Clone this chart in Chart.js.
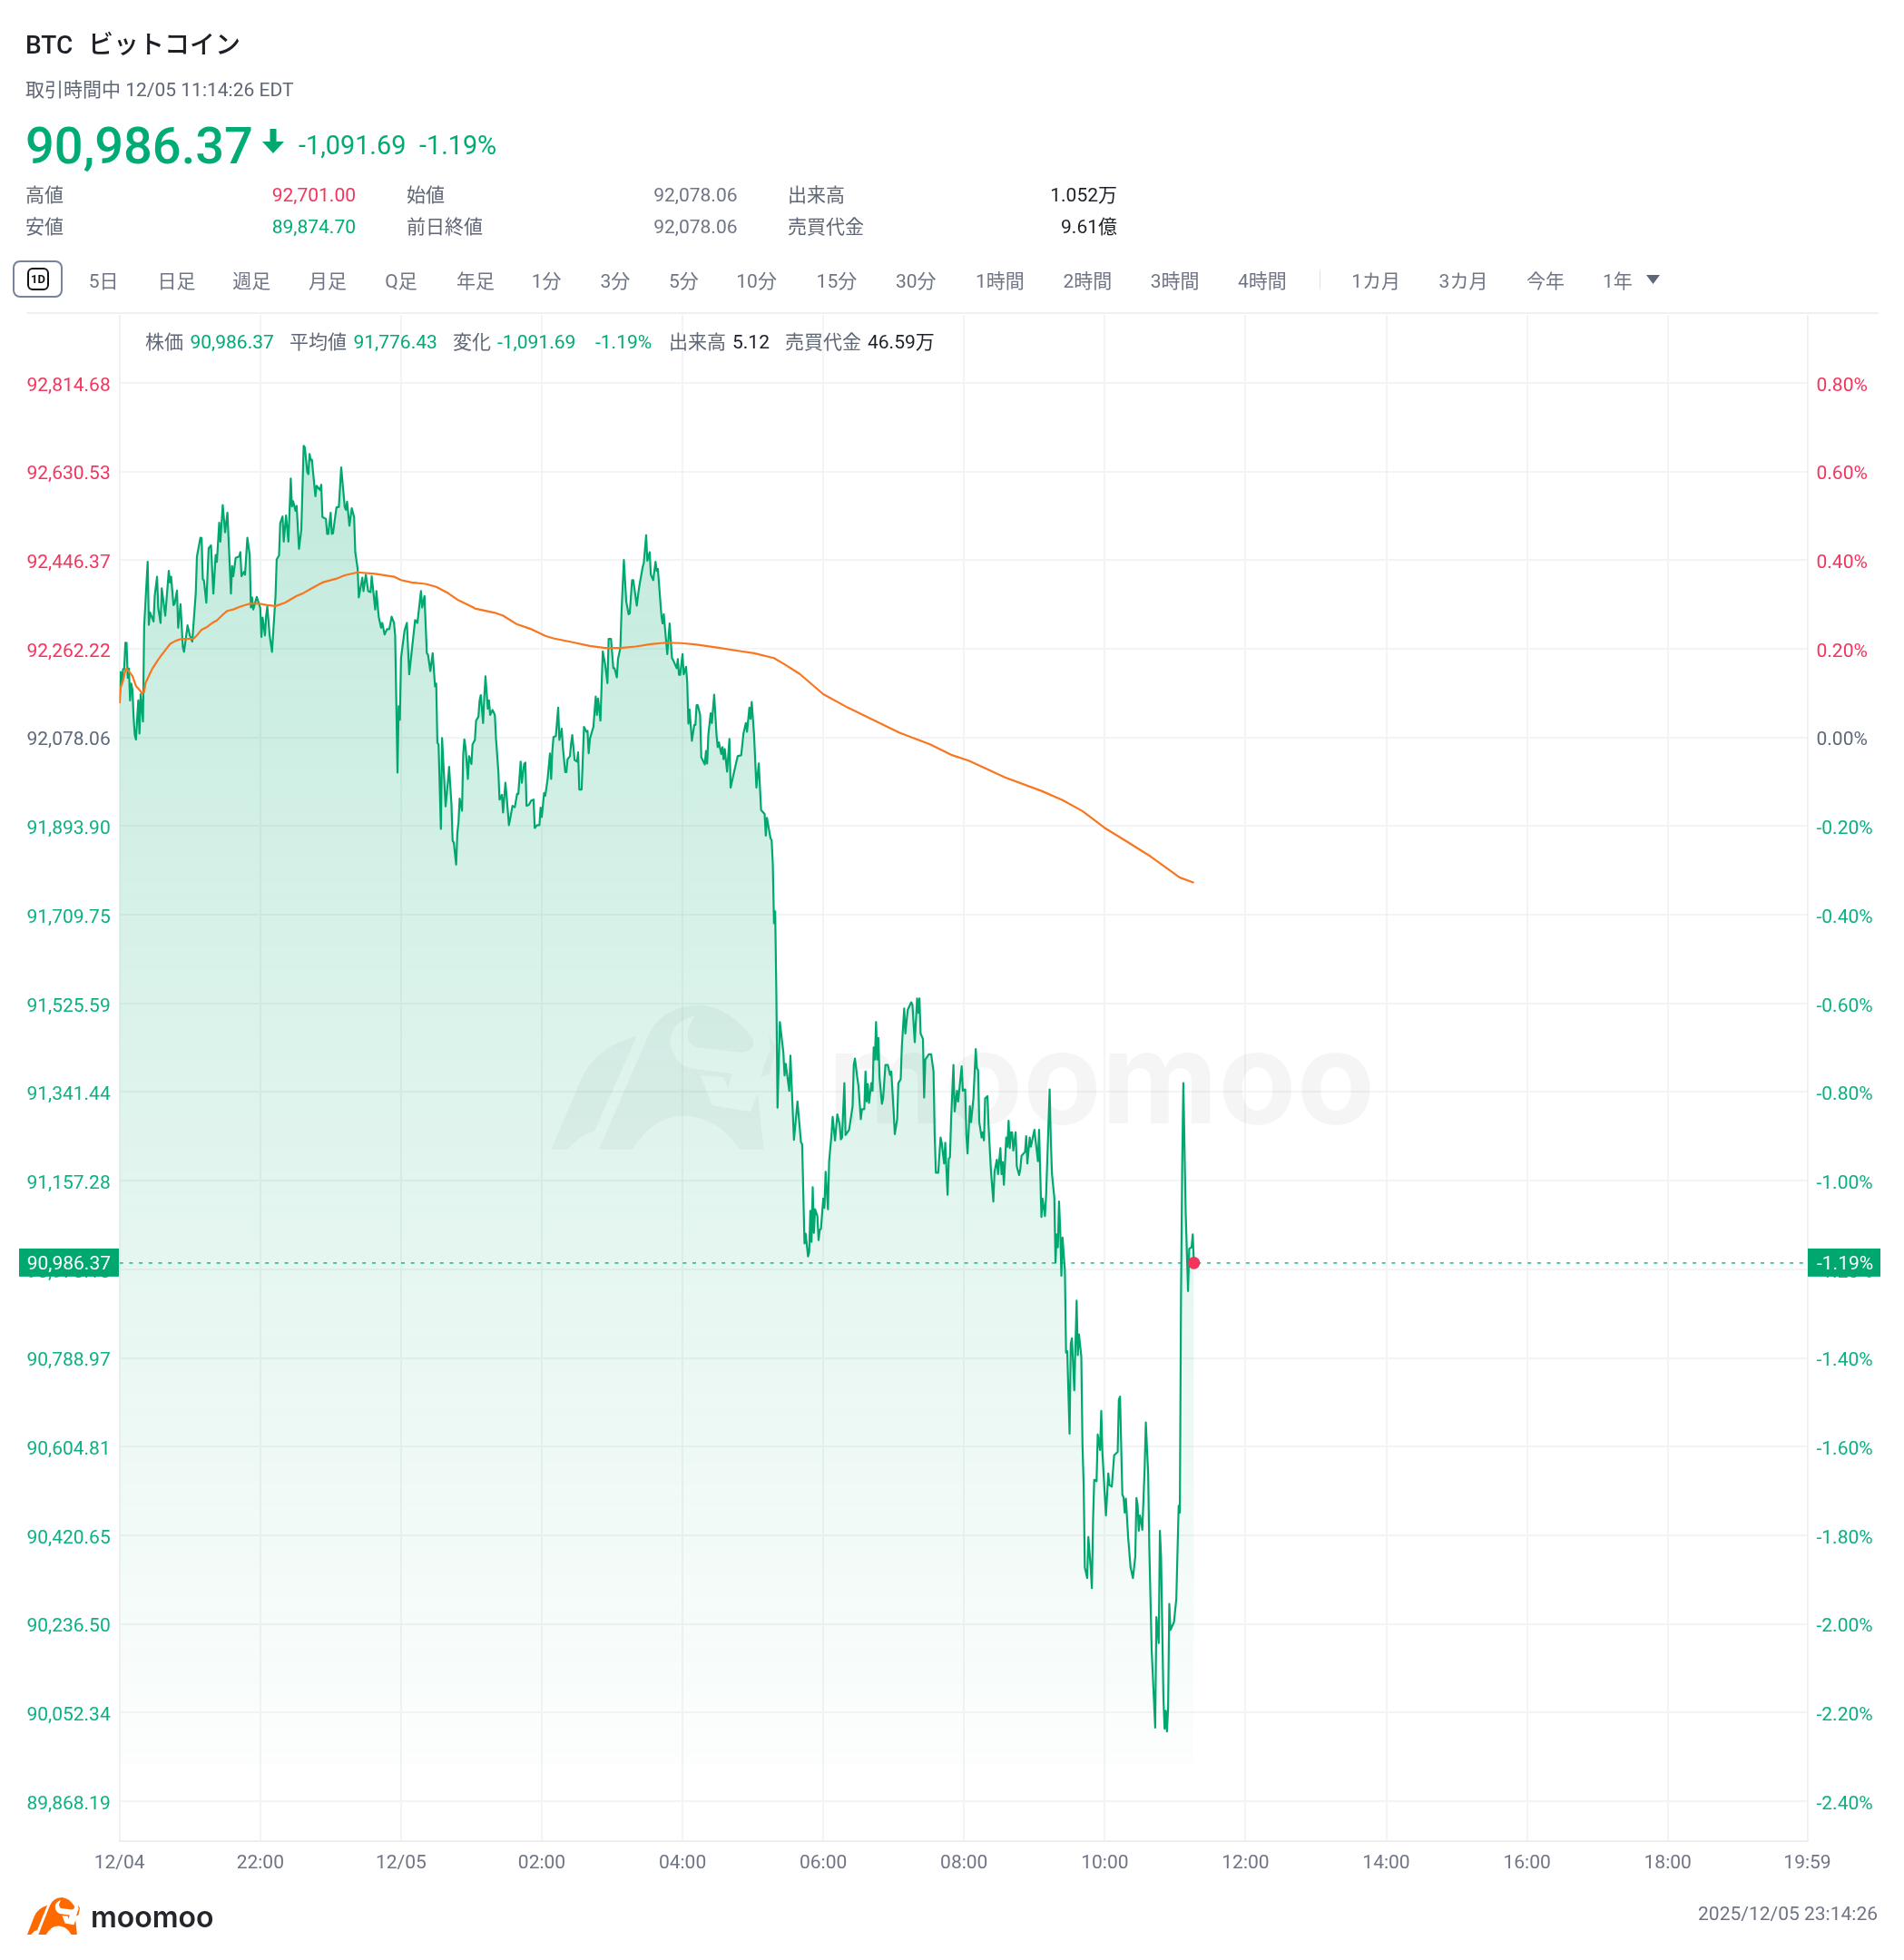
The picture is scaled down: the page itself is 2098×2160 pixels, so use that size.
<!DOCTYPE html>
<html lang="ja"><head><meta charset="utf-8"><title>BTC</title>
<script src="https://cdn.jsdelivr.net/npm/chart.js@4"></script>
<style>
html,body{margin:0;padding:0;background:#fff;width:2098px;height:2160px;overflow:hidden}
body{font-family:Roboto,"Noto Sans CJK JP",sans-serif;position:relative}
canvas{position:absolute;left:0;top:0}
.t{position:absolute;white-space:pre;line-height:1;transform:translateY(-50%);font-size:21px;color:#5f6675}
.r{transform:translate(-100%,-50%)}
.g{color:#00ab76}.e{color:#f5345e}.k{color:#1c1f26}.m{color:#6f7585}
</style></head><body>
<canvas id="c" width="2098" height="2160"></canvas>
<div id="head"></div>
<script>
const prevClose = 92078.06;
const lastPrice = 90986.37;
const priceSeries = [[0,92149],[1,92214],[2,92190],[3,92220],[4,92221],[5,92275],[6,92275],[7,92202],[8,92221],[9,92155],[10,92190],[11,92177],[12,92121],[13,92083],[14,92074],[16,92155],[17,92086],[18,92168],[20,92111],[21,92309],[24,92443],[25,92312],[26,92338],[29,92319],[30,92372],[32,92412],[33,92347],[35,92316],[36,92388],[39,92331],[42,92424],[43,92400],[44,92412],[46,92353],[47,92356],[49,92383],[50,92306],[52,92355],[54,92265],[55,92256],[58,92311],[60,92290],[62,92277],[65,92378],[66,92454],[69,92493],[70,92492],[71,92407],[72,92404],[74,92358],[76,92471],[78,92477],[80,92377],[82,92457],[83,92443],[85,92524],[86,92485],[88,92561],[90,92504],[92,92545],[95,92377],[96,92434],[97,92413],[99,92451],[102,92454],[103,92463],[104,92413],[106,92422],[107,92416],[109,92493],[111,92457],[112,92348],[113,92369],[114,92344],[117,92370],[120,92347],[121,92287],[122,92327],[124,92290],[125,92331],[126,92350],[128,92290],[130,92256],[133,92372],[134,92448],[136,92456],[137,92523],[139,92537],[140,92485],[142,92539],[144,92485],[146,92616],[147,92558],[148,92569],[150,92549],[151,92559],[153,92470],[155,92510],[157,92684],[158,92681],[160,92630],[161,92625],[162,92667],[163,92654],[164,92655],[167,92579],[168,92601],[171,92592],[172,92603],[173,92536],[176,92532],[177,92501],[178,92501],[180,92545],[181,92501],[182,92502],[184,92539],[185,92556],[187,92557],[189,92639],[192,92557],[193,92551],[194,92568],[196,92518],[198,92554],[200,92536],[201,92463],[203,92429],[204,92369],[207,92410],[208,92382],[210,92416],[212,92382],[214,92380],[215,92413],[218,92344],[219,92382],[221,92328],[223,92306],[224,92316],[226,92292],[228,92303],[230,92303],[232,92329],[234,92316],[235,92290],[237,92005],[238,92143],[239,92115],[240,92243],[243,92300],[245,92316],[247,92209],[252,92322],[254,92316],[257,92382],[258,92348],[260,92372],[262,92253],[263,92250],[265,92216],[267,92253],[269,92184],[270,92190],[271,92067],[272,92064],[274,91888],[275,92077],[278,91935],[280,91986],[281,92017],[283,91939],[284,91863],[285,91860],[287,91814],[288,91879],[289,91901],[290,91951],[292,91926],[293,92042],[294,92074],[295,92058],[297,91992],[298,92039],[300,92023],[301,92064],[303,92073],[304,92113],[306,92121],[307,92155],[308,92166],[310,92108],[311,92163],[312,92205],[314,92138],[315,92155],[316,92125],[318,92135],[320,92125],[321,92075],[323,92007],[324,91949],[326,91959],[327,91922],[329,91984],[330,91957],[332,91896],[333,91908],[335,91936],[337,91933],[339,91961],[340,91961],[342,92028],[343,91984],[345,92023],[346,92026],[347,91936],[349,91938],[351,91947],[353,91949],[354,91890],[356,91896],[358,91896],[359,91932],[360,91913],[362,91963],[363,91957],[365,91992],[367,92045],[368,91992],[369,92050],[370,92079],[372,92081],[374,92140],[375,92073],[377,92096],[378,92058],[380,92006],[381,92006],[382,92033],[384,92039],[385,92065],[386,92083],[388,92031],[390,92028],[391,92047],[392,91970],[394,91970],[396,92100],[398,92090],[399,92092],[400,92045],[401,92075],[404,92100],[406,92163],[407,92125],[408,92159],[410,92113],[412,92257],[414,92230],[416,92191],[417,92283],[419,92283],[421,92222],[422,92222],[424,92203],[425,92241],[427,92264],[428,92340],[430,92447],[432,92361],[434,92334],[435,92336],[437,92405],[438,92405],[441,92352],[443,92390],[446,92432],[447,92441],[449,92498],[450,92445],[452,92463],[453,92416],[455,92405],[457,92443],[458,92424],[459,92428],[462,92331],[463,92315],[464,92334],[467,92251],[469,92315],[471,92243],[472,92239],[475,92222],[476,92241],[477,92208],[478,92208],[480,92251],[481,92209],[483,92225],[484,92193],[485,92107],[486,92136],[488,92071],[490,92104],[491,92104],[492,92145],[493,92145],[495,92125],[496,92037],[499,92022],[500,92050],[501,92024],[502,92083],[504,92128],[505,92108],[507,92167],[509,92083],[510,92058],[511,92068],[513,92044],[514,92058],[515,92033],[516,92054],[518,92007],[520,92075],[521,91974],[524,92007],[527,92039],[530,92041],[532,92087],[534,92108],[535,92090],[537,92140],[538,92117],[539,92152],[541,92083],[543,91974],[545,92024],[547,91927],[550,91919],[551,91874],[552,91911],[555,91869],[556,91864],[557,91814],[558,91692],[559,91717],[560,91545],[561,91309],[563,91487],[566,91423],[567,91376],[568,91400],[571,91344],[572,91417],[575,91242],[578,91322],[581,91237],[582,91233],[584,91027],[585,91047],[587,91000],[588,91009],[589,91095],[590,91030],[591,91144],[592,91049],[593,91098],[595,91084],[596,91034],[597,91055],[598,91057],[600,91120],[601,91101],[602,91176],[604,91098],[605,91198],[607,91252],[608,91290],[610,91241],[612,91295],[614,91274],[615,91243],[616,91247],[618,91360],[619,91252],[622,91263],[625,91312],[626,91398],[627,91411],[629,91371],[630,91355],[632,91285],[633,91306],[635,91306],[636,91384],[637,91322],[638,91358],[639,91319],[641,91360],[642,91344],[643,91434],[644,91409],[645,91487],[646,91409],[647,91454],[648,91371],[650,91317],[651,91328],[653,91398],[655,91398],[657,91377],[658,91384],[660,91301],[661,91254],[663,91285],[664,91360],[666,91368],[667,91436],[669,91515],[670,91463],[672,91512],[675,91528],[676,91523],[678,91445],[680,91536],[681,91506],[682,91536],[683,91463],[685,91452],[686,91330],[687,91409],[690,91420],[692,91420],[694,91384],[695,91252],[696,91174],[698,91174],[700,91247],[701,91236],[703,91193],[704,91236],[706,91128],[707,91203],[708,91206],[709,91285],[711,91398],[712,91301],[714,91344],[715,91322],[718,91395],[719,91344],[721,91347],[722,91252],[723,91214],[725,91312],[726,91279],[728,91328],[730,91431],[731,91391],[732,91387],[733,91279],[735,91247],[736,91258],[737,91241],[738,91328],[740,91333],[741,91268],[743,91176],[745,91114],[746,91176],[748,91201],[749,91171],[751,91225],[752,91171],[753,91196],[754,91149],[756,91247],[757,91228],[758,91282],[759,91225],[760,91258],[761,91258],[762,91220],[764,91258],[765,91187],[767,91169],[768,91182],[769,91209],[772,91217],[773,91250],[774,91193],[776,91247],[777,91228],[780,91263],[783,91198],[784,91263],[786,91082],[787,91120],[789,91084],[790,91128],[793,91347],[794,91241],[795,91171],[797,91122],[798,90987],[799,91046],[800,91019],[801,91114],[802,91057],[803,90960],[804,91039],[806,90971],[807,90800],[808,90803],[810,90632],[811,90819],[812,90830],[814,90722],[816,90908],[817,90795],[818,90838],[820,90792],[821,90608],[822,90527],[823,90354],[825,90332],[826,90417],[828,90354],[829,90311],[830,90451],[831,90536],[833,90533],[834,90630],[836,90598],[837,90679],[838,90592],[841,90462],[843,90549],[844,90525],[846,90522],[848,90587],[851,90594],[852,90702],[853,90709],[855,90505],[856,90500],[857,90468],[858,90497],[860,90414],[862,90354],[864,90332],[866,90376],[867,90498],[868,90484],[869,90430],[870,90462],[871,90451],[872,90432],[874,90560],[875,90655],[877,90549],[878,90392],[880,90181],[883,90021],[884,90251],[886,90197],[887,90430],[888,90376],[890,90084],[891,90019],[892,90056],[893,90013],[894,90062],[895,90278],[896,90224],[899,90240],[901,90289],[903,90482],[904,90468],[905,90917],[906,91187],[907,91360],[909,91090],[911,90928],[912,91016],[914,91019],[915,91046],[916,90986.37]];
const averageSeries = [[0,92149],[1,92182],[3,92196],[5,92218],[6,92221],[8,92215],[11,92206],[14,92185],[17,92177],[19,92170],[21,92172],[22,92190],[25,92206],[28,92221],[33,92240],[37,92253],[43,92272],[48,92279],[53,92283],[63,92283],[66,92290],[70,92302],[75,92308],[79,92316],[83,92321],[88,92333],[92,92341],[97,92344],[103,92350],[111,92356],[119,92356],[126,92353],[133,92351],[141,92358],[146,92365],[151,92372],[156,92377],[164,92388],[173,92400],[185,92408],[192,92415],[203,92421],[218,92418],[234,92412],[240,92405],[249,92400],[261,92397],[270,92391],[280,92378],[289,92363],[301,92349],[303,92346],[320,92337],[327,92331],[339,92313],[350,92304],[363,92289],[370,92284],[388,92275],[401,92268],[414,92264],[427,92264],[440,92267],[453,92272],[466,92275],[479,92274],[492,92271],[512,92264],[530,92257],[541,92253],[558,92243],[567,92230],[580,92210],[600,92168],[621,92140],[642,92115],[665,92088],[691,92064],[709,92042],[724,92030],[755,91995],[786,91967],[804,91948],[821,91925],[840,91890],[858,91863],[879,91831],[904,91787],[916,91776.43]];
const priceTicks = [92814.68,92630.53,92446.37,92262.22,92078.06,91893.90,91709.75,91525.59,91341.44,91157.28,90973.13,90788.97,90604.81,90420.65,90236.50,90052.34,89868.19];
const percentTicks = [0.8,0.6,0.4,0.2,0,-0.2,-0.4,-0.6,-0.8,-1.0,-1.2,-1.4,-1.6,-1.8,-2.0,-2.2,-2.4];
const timeTicks = [0,120,240,360,480,600,720,840,960,1080,1200,1320,1439];
const timeLabels = ['12/04','22:00','12/05','02:00','04:00','06:00','08:00','10:00','12:00','14:00','16:00','18:00','19:59'];
const toolbarLabels = ['5日','日足','週足','月足','Q足','年足','1分','3分','5分','10分','15分','30分','1時間','2時間','3時間','4時間','1カ月','3カ月','今年','1年'];
const toolbarX = [97.8,173.5,256.3,340,424.2,503,585.7,661.4,737,811.3,899.6,986.9,1075,1171.4,1267.7,1364,1489.3,1585.6,1681.9,1766];

const GREEN='#00a870',TXT_G='#0cb083',RED='#f5345e',GREY='#5f6878';
const AXIS_MAX=92955.9, AXIS_MIN=89785.4, FILL_BASE=89946;
const BULL='M52 530 L150 300 Q200 190 335 155 L195 470 Q150 480 105 530 Z M210 530 L370 160 Q410 60 540 52 Q650 60 720 170 Q725 205 680 210 L530 192 Q495 175 505 130 L527 88 Q450 110 445 170 Q450 240 510 262 L650 280 L637 330 L622 292 L545 285 L585 385 L710 405 L735 345 L755 530 L675 530 Q600 420 490 420 Q390 420 320 530 Z M770 150 L795 190 L775 280 L745 290 Q760 230 778 200 Z';

const head=document.getElementById('head');
function put(txt,x,y,cls,extra){const d=document.createElement('div');d.className='t '+(cls||'');d.textContent=txt;d.style.left=x+'px';d.style.top=y+'px';if(extra)d.style.cssText+=';'+extra;head.appendChild(d);return d;}
put('BTC',28,49.5,'k','font-size:28px;font-weight:500');
put('ビットコイン',97,49.5,'k','font-size:28px;font-weight:500');
put('取引時間中 12/05 11:14:26 EDT',28,98.5,'');
put('90,986.37',28,161,'g','font-size:56px;font-weight:500');
put('-1,091.69',329,159.5,'g','font-size:28.8px;font-weight:400');
put('-1.19%',462,159.5,'g','font-size:28.8px;font-weight:400');
head.insertAdjacentHTML('beforeend','<svg style="position:absolute;left:288px;top:142px" width="26" height="27" viewBox="0 0 26 27"><path d="M9.5 0H16.5V14H25L13 27L1 14H9.5Z" fill="#00a870"/></svg>');
put('高値',28,214.5);put('92,701.00',392,214.5,'r e');put('始値',448,214.5);put('92,078.06',812.5,214.5,'r m');put('出来高',868,214.5);put('1.052万',1231,214.5,'r k');
put('安値',28,249.5);put('89,874.70',392,249.5,'r g');put('前日終値',448,249.5);put('92,078.06',812.5,249.5,'r m');put('売買代金',868,249.5);put('9.61億',1231,249.5,'r k');
head.insertAdjacentHTML('beforeend','<div style="position:absolute;left:14px;top:287px;width:51px;height:37px;border:2px solid #77839b;border-radius:8px"></div><div style="position:absolute;left:30px;top:295px;width:20px;height:21px;border:2px solid #111;border-radius:6px;font:700 13px/21px Roboto;text-align:center;color:#111">1D</div>');
toolbarLabels.forEach((l,i)=>put(l,toolbarX[i],309.5,'m'));
head.insertAdjacentHTML('beforeend','<div style="position:absolute;left:1454px;top:298px;width:1px;height:20px;background:#dfe2e6"></div><svg style="position:absolute;left:1814px;top:303px" width="15" height="10"><path d="M0 0H15L7.5 10Z" fill="#5f6675"/></svg><div style="position:absolute;left:29px;top:344px;width:2041px;height:2px;background:#eef0f2"></div>');
put('株価',160,376.5);put('90,986.37',209.5,376.5,'g');put('平均値',319,376.5);put('91,776.43',389.5,376.5,'g');put('変化',499,376.5);put('-1,091.69',548,376.5,'g');put('-1.19%',656,376.5,'g');put('出来高',737,376.5);put('5.12',807,376.5,'k');put('売買代金',865,376.5);put('46.59万',956,376.5,'k');
head.insertAdjacentHTML('beforeend','<svg style="position:absolute;left:30px;top:2091px" width="58" height="41" viewBox="52 52 743 478" preserveAspectRatio="none"><path d="'+BULL+'" fill="#ff6a00"/></svg>');
put('moomoo',100,2113,'','font:600 32px/1 Inter;color:#25262b');
put('2025/12/05 23:14:26',2069,2109,'r m');

const watermark={id:'watermark',beforeDatasetsDraw(c){const x=c.ctx;x.save();x.fillStyle='rgba(10,50,40,0.045)';x.translate(590,1090);x.scale(1/3,1/3);x.fill(new Path2D(BULL));x.restore();x.save();x.fillStyle='rgba(0,0,0,0.04)';x.font='700 141px Inter';x.textBaseline='alphabetic';x.fillText('moomoo',912,1238);x.restore();}};
const badges={id:'badges',afterDraw(c){const x=c.ctx,y=c.scales.y.getPixelForValue(lastPrice);x.save();x.fillStyle=GREEN;x.fillRect(21,y-16,110,31);x.fillRect(1992,y-16,80,31);x.fillStyle='#fff';x.font='21px Roboto';x.textBaseline='middle';x.textAlign='right';x.fillText(fmt(lastPrice),122,y+2);x.textAlign='left';x.fillText('-1.19%',2002,y+2);x.restore();}};
function fmt(v){return v.toLocaleString('en-US',{minimumFractionDigits:2,maximumFractionDigits:2});}
const tickCol=v=>Math.abs(v-prevClose)<0.01?GREY:(v>prevClose?RED:TXT_G);
const font={family:'Roboto',size:21};
new Chart(document.getElementById('c'),{type:'line',plugins:[watermark,badges],
 data:{datasets:[
  {data:[{x:916,y:lastPrice}],showLine:false,pointRadius:6.8,pointBackgroundColor:RED,pointBorderWidth:0,order:0},
  {data:averageSeries.map(p=>({x:p[0],y:p[1]})),borderColor:'#f9761e',borderWidth:2.2,pointRadius:0,order:1},
  {data:priceSeries.map(p=>({x:p[0],y:p[1]})),borderColor:GREEN,borderWidth:2.2,pointRadius:0,fill:{value:FILL_BASE},
   backgroundColor:(ctx)=>{const g=ctx.chart.ctx.createLinearGradient(0,490,0,1944);g.addColorStop(0,'rgba(0,168,112,0.245)');g.addColorStop(1,'rgba(0,168,112,0.01)');return g;},order:2},
  {data:[{x:0,y:lastPrice},{x:1439,y:lastPrice}],borderColor:'#36c596',borderWidth:1.8,borderDash:[4,6.7],pointRadius:0,order:3}
 ]},
 options:{responsive:false,animation:false,devicePixelRatio:1,layout:{padding:{top:347,left:0,right:0,bottom:0}},
  plugins:{legend:{display:false},tooltip:{enabled:false}},
  elements:{line:{tension:0,borderJoinStyle:'round'}},
  scales:{
   x:{type:'linear',min:0,max:1439,afterFit(s){s.height=131;},afterBuildTicks(s){s.ticks=timeTicks.map(v=>({value:v}));},
      grid:{color:'#f3f4f6',lineWidth:2,tickLength:0,drawTicks:false},border:{color:'#eceef1',width:2},
      ticks:{autoSkip:false,maxRotation:0,padding:12,color:'#6f7585',font,callback:(v)=>timeLabels[timeTicks.indexOf(v)]}},
   y:{type:'linear',position:'left',min:AXIS_MIN,max:AXIS_MAX,afterFit(s){s.width=131.7;},afterBuildTicks(s){s.ticks=priceTicks.map(v=>({value:v}));},
      grid:{color:'#f3f4f6',lineWidth:2,drawTicks:false,tickLength:0},border:{color:'#eceef1',width:1},
      ticks:{padding:10,labelOffset:3.5,font,color:(c)=>tickCol(c.tick.value),callback:(v)=>fmt(v)}},
   y2:{type:'linear',position:'right',min:(AXIS_MIN/prevClose-1)*100,max:(AXIS_MAX/prevClose-1)*100,afterFit(s){s.width=106.5;},afterBuildTicks(s){s.ticks=percentTicks.map(v=>({value:v}));},
      grid:{display:false,drawTicks:false,tickLength:0},border:{color:'#eceef1',width:1},
      ticks:{padding:10,labelOffset:3.5,font,color:(c)=>c.tick.value===0?GREY:(c.tick.value>0?RED:TXT_G),callback:(v)=>v.toFixed(2)+'%'}}
  }}});
</script></body></html>
